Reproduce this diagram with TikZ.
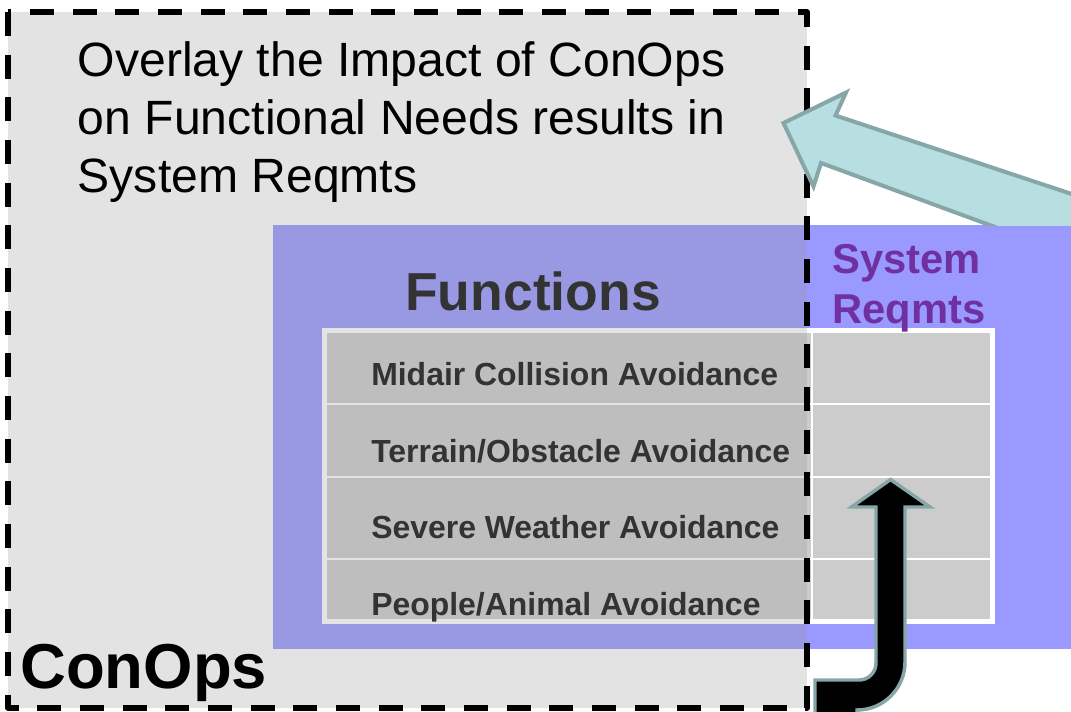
\documentclass[tikz,border=0pt]{standalone}
\usepackage{fontspec}
\setmainfont{Liberation Sans}
\definecolor{conopsgray}{HTML}{9C9C9C}
\definecolor{funcblue}{HTML}{9999FF}
\definecolor{cellgray}{HTML}{CCCCCC}
\definecolor{darktext}{HTML}{333333}
\definecolor{reqpurple}{HTML}{7030A0}
\definecolor{tealfill}{HTML}{B7DFE1}
\definecolor{tealedge}{HTML}{87A6A7}
\tikzset{
  label text/.style={inner sep=0pt, anchor=base west},
  overlay text/.style={label text, font=\fontsize{36.1pt}{43.9pt}\selectfont},
  row text/.style={label text, text=darktext, font=\bfseries\fontsize{23.95pt}{28pt}\selectfont},
  table frame/.style={fill=cellgray, draw=white, line width=3.75pt},
  row rule/.style={draw=white, line width=1.5pt},
  conops border/.style={draw=black, line width=4.1pt, dash pattern=on 18pt off 14pt, line join=round},
  teal block/.style={fill=tealfill, draw=tealedge, line width=3pt, line join=miter},
  black block/.style={fill=black, draw=tealedge, line width=2.6pt, line join=miter}
}
\begin{document}
\begin{tikzpicture}[x=0.75pt, y=-0.75pt]
\useasboundingbox (0,0) rectangle (1071,711);
\clip (0,0) rectangle (1071,711);

% Functions panel
\fill[funcblue] (273,225) rectangle (1080,649);

% Function / requirement table
\draw[table frame] (324.5,330.5) rectangle (992.5,621.5);
\foreach \y in {404,477,559}
  \draw[row rule] (327,\y) -- (990,\y);
\draw[row rule] (812,333) -- (812,619);

% ConOps overlay (translucent)
\fill[conopsgray, fill opacity=0.28] (8,12) rectangle (807,708);

% Headline
\node[overlay text] (ov1) at (77.5,76.7) {Overlay the Impact of ConOps};
\node[overlay text] (ov2) at (77.5,134.2) {on Functional Needs results in};
\node[overlay text] (ov3) at (77.5,192) {System Reqmts};

% Panel titles
\node[label text, text=darktext, font=\bfseries\fontsize{40.1pt}{46pt}\selectfont] (func) at (405,310) {Functions};
\node[label text, text=reqpurple, font=\bfseries\fontsize{31.3pt}{37pt}\selectfont] (sys1) at (832,273) {System};
\node[label text, text=reqpurple, font=\bfseries\fontsize{31.3pt}{37pt}\selectfont] (sys2) at (832,323) {Reqmts};

% Table rows
\node[row text] (r1) at (371,385) {Midair Collision Avoidance};
\node[row text] (r2) at (371,462) {Terrain/Obstacle Avoidance};
\node[row text] (r3) at (371,538) {Severe Weather Avoidance};
\node[row text] (r4) at (371,615) {People/Animal Avoidance};

% ConOps label and border
\node[label text, font=\bfseries\fontsize{47.6pt}{54pt}\selectfont] (conops) at (20,688) {ConOps};
\draw[conops border] (8,12) rectangle (807,708);

% Block arrow pointing at the headline (passes behind the Functions panel)
\begin{scope}
  \clip (0,0) rectangle (1071,225);
  \draw[teal block] (783.5,123) -- (846,92.5) -- (835.5,115.5) -- (1150,220)
    -- (1150,284) -- (821,163) -- (813.5,186.5) -- cycle;
\end{scope}

% Bent arrow rising into the requirements column
\draw[black block] (815,716) -- (815,680) -- (859,680)
  .. controls (868.4,680) and (876,672.4) .. (876,663)
  -- (876,507) -- (851.5,507) -- (890.5,479.5) -- (930,507) -- (905,507)
  -- (905,662)
  .. controls (905,688.5) and (883.5,710) .. (857,710)
  -- (857,716) -- cycle;
\end{tikzpicture}
\end{document}
